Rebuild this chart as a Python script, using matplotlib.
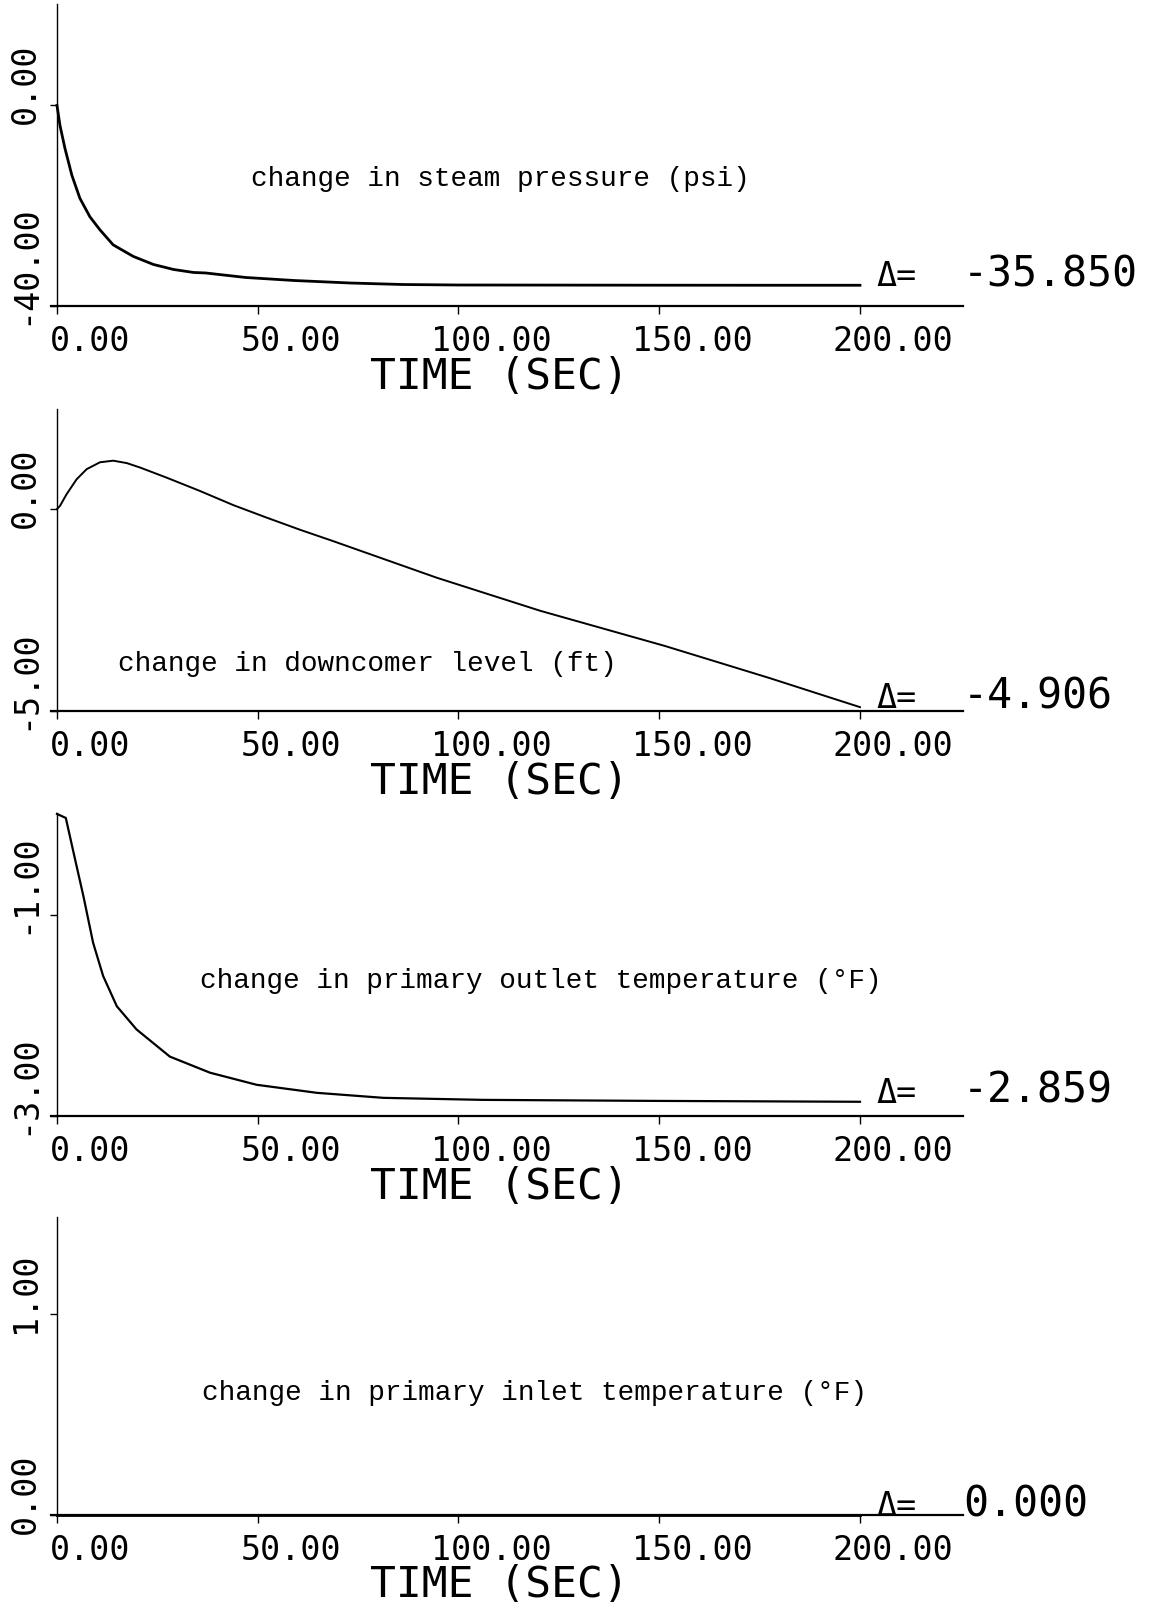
import matplotlib
matplotlib.use("Agg")
import matplotlib.pyplot as plt
from matplotlib.transforms import ScaledTranslation

PLOTTER = "DejaVu Sans Mono"
TYPEWRITER = "Liberation Mono"

XTICKS = [0, 50, 100, 150, 200]
XTICKLABELS = ["0.00", "50.00", "100.00", "150.00", "200.00"]

# change in steam pressure (psi)
T_PRESS = [0, 0.75, 2, 3.7, 5.7, 8.2, 10.7, 14, 19, 24, 29, 34, 37, 47, 59, 73, 86, 100, 125, 150, 175, 200]
V_PRESS = [0, -4.0, -8.6, -13.9, -18.5, -22.2, -24.8, -27.8, -30.1, -31.7, -32.7, -33.3, -33.4,
           -34.3, -34.9, -35.4, -35.7, -35.8, -35.82, -35.84, -35.85, -35.85]

# change in downcomer level (ft)
T_LEVEL = [0, 0.75, 2.4, 4.9, 7.4, 10.7, 14, 17.4, 20.7, 27.3, 35.6, 43.9, 52.2, 60.5, 68.7,
           94.6, 120.4, 151.4, 177.3, 200]
V_LEVEL = [0.0, 0.08, 0.37, 0.74, 0.99, 1.16, 1.20, 1.14, 1.03, 0.78, 0.45, 0.10, -0.21, -0.51,
           -0.79, -1.70, -2.52, -3.39, -4.18, -4.906]

# change in primary outlet temperature (F)
T_TOUT = [0, 2.2, 4.5, 6.6, 9.0, 11.5, 14.9, 19.8, 28.1, 38.1, 49.7, 64.7, 81.3, 106, 147.7, 200]
V_TOUT = [0.0, -0.04, -0.45, -0.82, -1.28, -1.61, -1.91, -2.14, -2.41, -2.57, -2.69, -2.77,
          -2.82, -2.84, -2.85, -2.859]

# change in primary inlet temperature (F)
T_TIN = [0, 200]
V_TIN = [0.0, 0.0]

TITLES = ["change in steam pressure (psi)",
          "change in downcomer level (ft)",
          "change in primary outlet temperature (\u00b0F)",
          "change in primary inlet temperature (\u00b0F)"]
YTICKS = [[0, -40], [0, -5], [-1, -3], [1, 0]]
YTICKLABELS = [["0.00", "-40.00"], ["0.00", "-5.00"], ["-1.00", "-3.00"], ["1.00", "0.00"]]
YLIMS = [(-40, 20.2), (-5, 2.48), (-3, 0.01), (0, 1.48)]
FINALS = [-35.850, -4.906, -2.859, 0.000]


def Main():
	fig = plt.figure(figsize=(11.66, 16.06), dpi=100)
	series = [(T_PRESS, V_PRESS), (T_LEVEL, V_LEVEL), (T_TOUT, V_TOUT), (T_TIN, V_TIN)]

	# axes boxes, figure fractions
	bottoms = [0.8088, 0.5567, 0.3045, 0.0560]
	heights = [0.188, 0.188, 0.1887, 0.1856]
	title_xy = [(0.219, 0.424), (0.073, 0.159), (0.163, 0.449), (0.166, 0.413)]
	widths = [2.0, 1.4, 1.6, 2.0]

	offx = ScaledTranslation(0.33, 0, fig.dpi_scale_trans)
	offy = ScaledTranslation(0, -0.18, fig.dpi_scale_trans)

	for i, (t, v) in enumerate(series):
		ax = fig.add_axes([0.0437, bottoms[i], 0.782, heights[i]])
		ax.plot(t, v, color="black", lw=widths[i], clip_on=False, zorder=3)
		ax.set_xlim(-1.5, 225.6)
		ax.set_ylim(*YLIMS[i])

		ax.spines["top"].set_visible(False)
		ax.spines["right"].set_visible(False)
		ax.spines["left"].set_position(("data", 0))
		ax.spines["left"].set_linewidth(1.0)
		ax.spines["bottom"].set_linewidth(1.6)

		ax.set_xticks(XTICKS, XTICKLABELS, fontfamily=PLOTTER, fontsize=24)
		ax.set_yticks(YTICKS[i], YTICKLABELS[i], fontfamily=PLOTTER, fontsize=24,
		              rotation=90, va="bottom", ha="right")
		ax.tick_params(axis="x", direction="out", length=6, width=1, pad=7)
		ax.tick_params(axis="y", direction="out", length=5, width=1, pad=6)
		for lab in ax.get_xticklabels():
			lab.set_transform(lab.get_transform() + offx)
		for lab in ax.get_yticklabels():
			lab.set_transform(lab.get_transform() + offy)

		ax.set_xlabel("TIME (SEC)", fontfamily=PLOTTER, fontsize=31)
		ax.xaxis.set_label_coords(0.492, -70.0 / 302)
		ax.xaxis.label.set_va("center")

		ax.text(title_xy[i][0], title_xy[i][1], TITLES[i], transform=ax.transAxes,
		        fontfamily=TYPEWRITER, fontsize=20, va="center", ha="left")

		ax.text(204, FINALS[i], "\u0394=", fontfamily=PLOTTER, fontsize=24,
		        va="baseline", ha="left", clip_on=False)
		ax.text(225.6, FINALS[i], "%.3f" % FINALS[i], fontfamily=PLOTTER, fontsize=30,
		        va="baseline", ha="left", clip_on=False)

	fig.savefig("out.png", dpi=100, facecolor="white")
	plt.close(fig)


if __name__ == "__main__":
	Main()
